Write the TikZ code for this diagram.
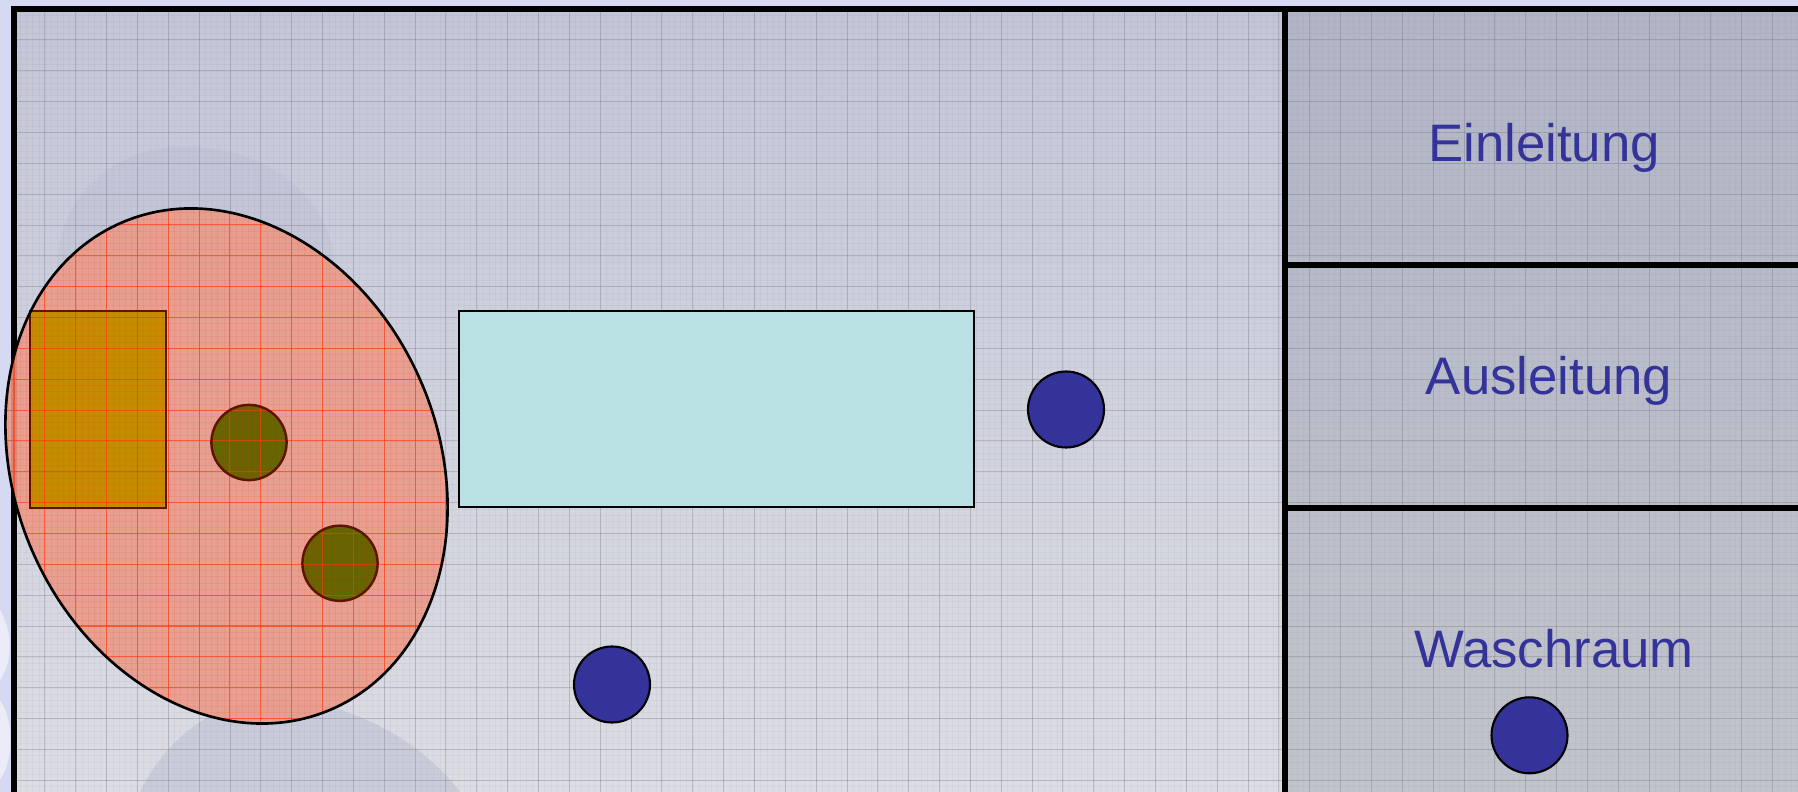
\documentclass[tikz,border=0pt]{standalone}
\usepackage{fontspec}
\setmainfont{Liberation Sans}
\begin{document}
\begin{tikzpicture}[x=0.01cm,y=-0.01cm]
\definecolor{outerbg}{HTML}{D5D9F2}
\definecolor{mainTop}{HTML}{C3C6D8}
\definecolor{mainBot}{HTML}{DCDDE3}
\definecolor{colTop}{HTML}{B2B5C6}
\definecolor{colBot}{HTML}{C2C4CC}
\definecolor{wmark}{HTML}{A9AFCB}
\definecolor{gridc}{HTML}{6E7080}
\definecolor{salmon}{HTML}{EA9A8A}
\definecolor{redgrid}{HTML}{FF3A10}
\definecolor{gold}{HTML}{C48C00}
\definecolor{olive}{HTML}{666400}
\definecolor{brownline}{HTML}{5E1400}
\definecolor{paleblue}{HTML}{B9E0E2}
\definecolor{navy}{HTML}{333399}
\tikzset{
  frameline/.style={line width=1.6pt, black},
  coarsegrid/.style={draw=gridc, line width=0.25pt, opacity=0.3},
  finegrid/.style={draw=gridc, line width=0.1pt, opacity=0.06},
  redcoarse/.style={draw=redgrid, line width=0.3pt, opacity=0.65},
  redfine/.style={draw=redgrid, line width=0.1pt, opacity=0.1},
  dot/.style={fill=navy, draw=black, line width=0.6pt},
  lbl/.style={text=navy, font=\fontsize{15}{18}\selectfont, inner sep=0pt}
}
\useasboundingbox (0,0) rectangle (1798,792);
% backgrounds
\fill[outerbg] (0,0) rectangle (1798,792);
\shade[top color=mainTop, bottom color=mainBot] (14,9) rectangle (1285,792);
\shade[top color=colTop, bottom color=colBot] (1285,9) rectangle (1798,792);
% faint watermark
\begin{scope}
\clip (14,9) rectangle (1285,792);
\fill[wmark, opacity=0.35] (140,792) .. controls (170,730) and (230,690) .. (300,700)
  .. controls (360,710) and (420,740) .. (460,792) -- cycle;
\fill[wmark, opacity=0.2] (60,300) .. controls (40,200) and (120,130) .. (220,150)
  .. controls (300,165) and (350,230) .. (330,300) -- cycle;
\end{scope}
\fill[white, opacity=0.5] (0,610) .. controls (12,630) and (14,660) .. (0,680) -- cycle;
\fill[white, opacity=0.5] (0,700) .. controls (14,720) and (14,760) .. (0,780) -- cycle;
% grids
\foreach \i in {0,...,289} {\draw[finegrid] ({14+6.17*\i},9) -- ({14+6.17*\i},792);}
\foreach \j in {0,...,127} {\draw[finegrid] (14,{9+6.17*\j}) -- (1798,{9+6.17*\j});}
\foreach \i in {1,...,57} {\draw[coarsegrid] ({14+30.85*\i},9) -- ({14+30.85*\i},792);}
\foreach \j in {1,...,25} {\draw[coarsegrid] (14,{9+30.85*\j}) -- (1798,{9+30.85*\j});}
% frame and dividers
\coordinate (fbl) at (14,800);
\coordinate (ftl) at (14,9);
\coordinate (ftr) at (1806,9);
\coordinate (dtop) at (1285,9);
\coordinate (dbot) at (1285,800);
\coordinate (h1l) at (1285,265);
\coordinate (h1r) at (1806,265);
\coordinate (h2l) at (1285,508);
\coordinate (h2r) at (1806,508);
\draw[frameline] (fbl) -- (ftl) -- (ftr);
\draw[frameline] (dtop) -- (dbot);
\draw[frameline] (h1l) -- (h1r);
\draw[frameline] (h2l) -- (h2r);
% labels
\node[lbl, anchor=base] (einl) at (1544,162) {Einleitung};
\node[lbl, anchor=base] (ausl) at (1549,395) {Ausleitung};
\node[lbl, anchor=base] (wasch) at (1554,668) {Waschraum};
% pale blue bench and blue dots
\draw[fill=paleblue, draw=black, line width=0.6pt] (459,311) rectangle (974,507);
\draw[dot] (1066,409.5) circle (38);
\draw[dot] (612,684.5) circle (38);
\draw[dot] (1529.5,735.3) circle (38);
% salmon ellipse area
\coordinate (ec) at (226.5,466);
\fill[salmon, opacity=0.9, rotate around={23.2:(ec)}] (ec) ellipse (212 and 265);
\fill[gold] (30,311) rectangle (166,508);
\fill[olive] (249,442.5) circle (37.6);
\fill[olive] (340,563.3) circle (37.6);
\begin{scope}
\clip[rotate around={23.2:(ec)}] (ec) ellipse (212 and 265);
\foreach \i in {-2,...,77} {\draw[redfine] ({14+6.17*\i},150) -- ({14+6.17*\i},792);}
\foreach \j in {22,...,127} {\draw[redfine] (0,{9+6.17*\j}) -- (470,{9+6.17*\j});}
\foreach \i in {0,...,15} {\draw[redcoarse] ({14+30.85*\i},150) -- ({14+30.85*\i},792);}
\foreach \j in {5,...,25} {\draw[redcoarse] (0,{9+30.85*\j}) -- (470,{9+30.85*\j});}
\end{scope}
\draw[brownline, line width=0.7pt] (30,311) rectangle (166,508);
\draw[brownline, line width=0.7pt] (249,442.5) circle (37.6);
\draw[brownline, line width=0.7pt] (340,563.3) circle (37.6);
\draw[black, line width=0.75pt, rotate around={23.2:(ec)}] (ec) ellipse (212 and 265);
\end{tikzpicture}
\end{document}
